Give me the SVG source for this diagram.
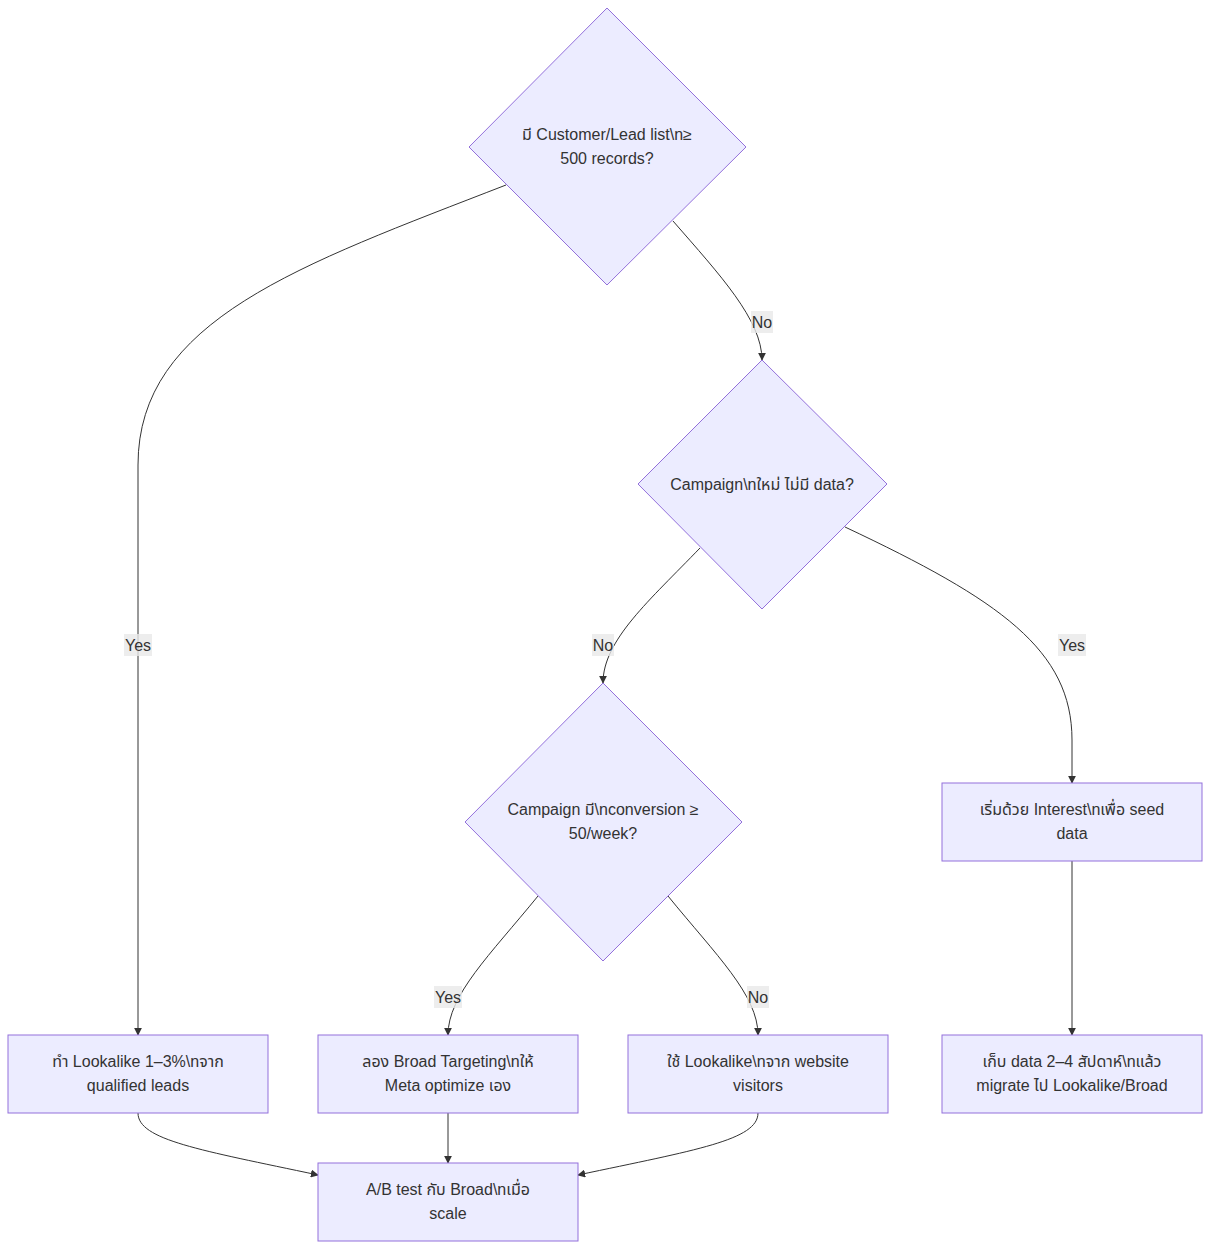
<svg xmlns="http://www.w3.org/2000/svg" width="1211" height="1249" viewBox="0 0 1211 1249">
<style>
.n{fill:#ECECFF;stroke:#9370DB;stroke-width:1}
.t{font-family:"Liberation Sans","Noto Sans","Noto Sans Thai",sans-serif;font-size:16px;fill:#333;text-anchor:middle}
.e{fill:none;stroke:#333;stroke-width:1}
.lb{fill:#e8e8e8;opacity:0.8}
</style>
<defs><marker id="a" viewBox="0 0 10 10" refX="9" refY="5" markerWidth="8" markerHeight="8" orient="auto"><path d="M0,0L10,5L0,10z" fill="#333"/></marker></defs>
<rect width="1211" height="1249" fill="#fff"/>
<g id="edges">
<path class="e" marker-end="url(#a)" d="M506,185C300,265 138,320 138,465L138,1035"/>
<path class="e" marker-end="url(#a)" d="M673,221C720,275 762,320 762,360"/>
<path class="e" marker-end="url(#a)" d="M700,548C650,600 603,640 603,683"/>
<path class="e" marker-end="url(#a)" d="M845,527C1000,600 1072,650 1072,740L1072,783"/>
<path class="e" marker-end="url(#a)" d="M538,896C490,955 448,995 448,1035"/>
<path class="e" marker-end="url(#a)" d="M668,896C716,955 758,995 758,1035"/>
<path class="e" marker-end="url(#a)" d="M1072,861L1072,1035"/>
<path class="e" marker-end="url(#a)" d="M138,1113C138,1140 200,1150 318,1175"/>
<path class="e" marker-end="url(#a)" d="M448,1113L448,1163"/>
<path class="e" marker-end="url(#a)" d="M758,1113C758,1140 696,1150 578,1175"/>
<rect class="lb" x="124" y="634" width="28" height="22"/><text class="t" x="138" y="651">Yes</text>
<rect class="lb" x="751" y="311" width="22" height="22"/><text class="t" x="762" y="328">No</text>
<rect class="lb" x="592" y="634" width="22" height="22"/><text class="t" x="603" y="651">No</text>
<rect class="lb" x="1058" y="634" width="28" height="22"/><text class="t" x="1072" y="651">Yes</text>
<rect class="lb" x="434" y="986" width="28" height="22"/><text class="t" x="448" y="1003">Yes</text>
<rect class="lb" x="747" y="986" width="22" height="22"/><text class="t" x="758" y="1003">No</text>
</g>
<g id="D1"><polygon class="n" points="607,8 746,147 607,285 469,147"/><text class="t" x="607" y="140">มี Customer/Lead list\n≥</text><text class="t" x="607" y="164">500 records?</text></g>
<g id="D2"><polygon class="n" points="762,360 887,484 762,609 638,484"/><text class="t" x="762" y="490">Campaign\nใหม่ ไม่มี data?</text></g>
<g id="D3"><polygon class="n" points="603,683 742,822 603,961 465,822"/><text class="t" x="603" y="815">Campaign มี\nconversion ≥</text><text class="t" x="603" y="839">50/week?</text></g>
<g id="R1"><rect class="n" x="8" y="1035" width="260" height="78"/><text class="t" x="138" y="1067">ทำ Lookalike 1–3%\nจาก</text><text class="t" x="138" y="1091">qualified leads</text></g>
<g id="R2"><rect class="n" x="318" y="1035" width="260" height="78"/><text class="t" x="448" y="1067">ลอง Broad Targeting\nให้</text><text class="t" x="448" y="1091">Meta optimize เอง</text></g>
<g id="R3"><rect class="n" x="628" y="1035" width="260" height="78"/><text class="t" x="758" y="1067">ใช้ Lookalike\nจาก website</text><text class="t" x="758" y="1091">visitors</text></g>
<g id="R4"><rect class="n" x="942" y="783" width="260" height="78"/><text class="t" x="1072" y="815">เริ่มด้วย Interest\nเพื่อ seed</text><text class="t" x="1072" y="839">data</text></g>
<g id="R5"><rect class="n" x="942" y="1035" width="260" height="78"/><text class="t" x="1072" y="1067">เก็บ data 2–4 สัปดาห์\nแล้ว</text><text class="t" x="1072" y="1091">migrate ไป Lookalike/Broad</text></g>
<g id="R6"><rect class="n" x="318" y="1163" width="260" height="78"/><text class="t" x="448" y="1195">A/B test กับ Broad\nเมื่อ</text><text class="t" x="448" y="1219">scale</text></g>
</svg>
